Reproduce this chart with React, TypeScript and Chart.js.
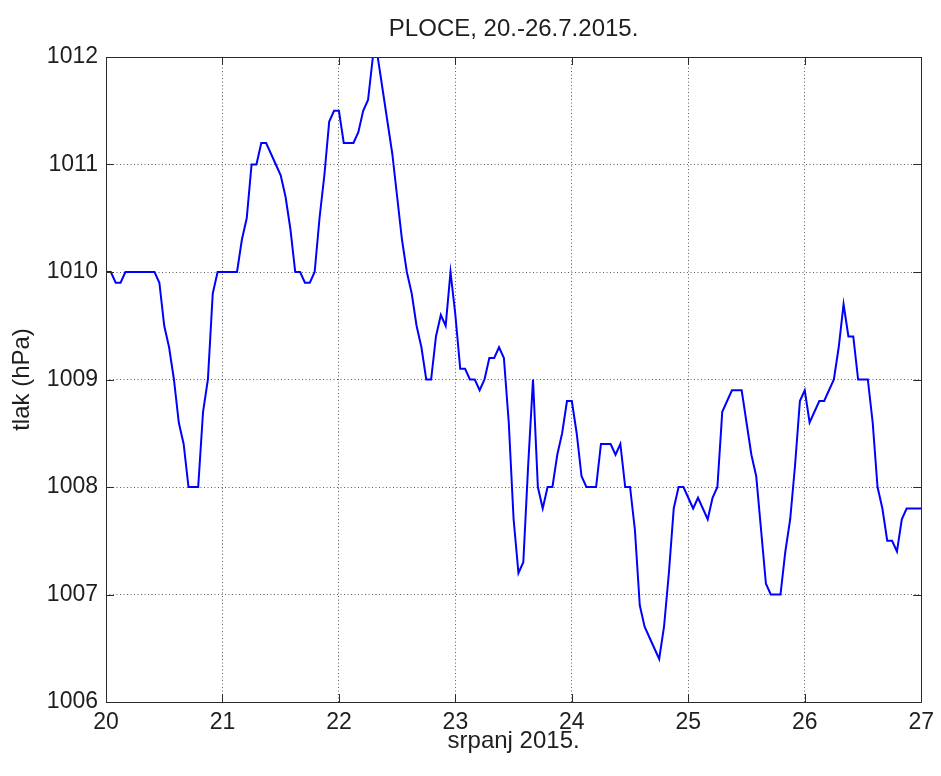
import { useEffect, useRef } from "react";
import { Chart, registerables } from "chart.js";

Chart.register(...registerables);

const TITLE = "PLOCE, 20.-26.7.2015.";
const X_LABEL = "srpanj 2015.";
const Y_LABEL = "tlak (hPa)";

const DAY_TICKS = [20, 21, 22, 23, 24, 25, 26, 27];
const PRESSURE_TICKS = [1006, 1007, 1008, 1009, 1010, 1011, 1012];

// hourly readings starting at 20.7. 00h
const START_DAY = 20;
const SAMPLES_PER_DAY = 24;

const pressure = [
  // 20.7.
  1010.0, 1010.0, 1009.9, 1009.9, 1010.0, 1010.0, 1010.0, 1010.0, 1010.0, 1010.0, 1010.0, 1009.9,
  1009.5, 1009.3, 1009.0, 1008.6, 1008.4, 1008.0, 1008.0, 1008.0, 1008.7, 1009.0, 1009.8, 1010.0,
  // 21.7.
  1010.0, 1010.0, 1010.0, 1010.0, 1010.3, 1010.5, 1011.0, 1011.0, 1011.2, 1011.2, 1011.1, 1011.0,
  1010.9, 1010.7, 1010.4, 1010.0, 1010.0, 1009.9, 1009.9, 1010.0, 1010.5, 1010.9, 1011.4, 1011.5,
  // 22.7.
  1011.5, 1011.2, 1011.2, 1011.2, 1011.3, 1011.5, 1011.6, 1012.0, 1012.0, 1011.7, 1011.4, 1011.1,
  1010.7, 1010.3, 1010.0, 1009.8, 1009.5, 1009.3, 1009.0, 1009.0, 1009.4, 1009.6, 1009.5, 1010.0,
  // 23.7.
  1009.6, 1009.1, 1009.1, 1009.0, 1009.0, 1008.9, 1009.0, 1009.2, 1009.2, 1009.3, 1009.2, 1008.6,
  1007.7, 1007.2, 1007.3, 1008.2, 1009.0, 1008.0, 1007.8, 1008.0, 1008.0, 1008.3, 1008.5, 1008.8,
  // 24.7.
  1008.8, 1008.5, 1008.1, 1008.0, 1008.0, 1008.0, 1008.4, 1008.4, 1008.4, 1008.3, 1008.4, 1008.0,
  1008.0, 1007.6, 1006.9, 1006.7, 1006.6, 1006.5, 1006.4, 1006.7, 1007.2, 1007.8, 1008.0, 1008.0,
  // 25.7.
  1007.9, 1007.8, 1007.9, 1007.8, 1007.7, 1007.9, 1008.0, 1008.7, 1008.8, 1008.9, 1008.9, 1008.9,
  1008.6, 1008.3, 1008.1, 1007.6, 1007.1, 1007.0, 1007.0, 1007.0, 1007.4, 1007.7, 1008.2, 1008.8,
  // 26.7.
  1008.9, 1008.6, 1008.7, 1008.8, 1008.8, 1008.9, 1009.0, 1009.3, 1009.7, 1009.4, 1009.4, 1009.0,
  1009.0, 1009.0, 1008.6, 1008.0, 1007.8, 1007.5, 1007.5, 1007.4, 1007.7, 1007.8, 1007.8, 1007.8,
  // 27.7. 00h
  1007.8,
];

const FONT_FAMILY = "'Liberation Sans', Arial, Helvetica, sans-serif";
const TEXT_COLOR = "#1e1e1e";
const AXIS_COLOR = "#2a2a2a";
const GRID_COLOR = "rgba(40,40,40,0.75)";
const LINE_COLOR = "#0000ff";
const TICK_LEN = 8;

// axes box with inward tick marks on all four sides, plus the title centred over the plot
const framePlugin = {
  id: "matlabFrame",
  afterDraw(chart: any) {
    const { ctx, chartArea } = chart;
    const { left, right, top, bottom } = chartArea;
    const xs = chart.scales.x;
    const ys = chart.scales.y;
    ctx.save();
    ctx.strokeStyle = AXIS_COLOR;
    ctx.lineWidth = 1;
    ctx.setLineDash([]);
    ctx.beginPath();
    ctx.rect(Math.round(left) + 0.5, Math.round(top) + 0.5, Math.round(right - left), Math.round(bottom - top));
    ctx.stroke();
    ctx.beginPath();
    DAY_TICKS.forEach((v) => {
      const px = Math.round(xs.getPixelForValue(v)) + 0.5;
      ctx.moveTo(px, bottom);
      ctx.lineTo(px, bottom - TICK_LEN);
      ctx.moveTo(px, top);
      ctx.lineTo(px, top + TICK_LEN);
    });
    PRESSURE_TICKS.forEach((v) => {
      const py = Math.round(ys.getPixelForValue(v)) + 0.5;
      ctx.moveTo(left, py);
      ctx.lineTo(left + TICK_LEN, py);
      ctx.moveTo(right, py);
      ctx.lineTo(right - TICK_LEN, py);
    });
    ctx.stroke();

    ctx.fillStyle = TEXT_COLOR;
    ctx.font = `24px ${FONT_FAMILY}`;
    ctx.textAlign = "center";
    ctx.textBaseline = "middle";
    ctx.fillText(TITLE, (left + right) / 2, top - 28);
    ctx.restore();
  },
};

export default function App() {
  const canvasRef = useRef<HTMLCanvasElement | null>(null);

  useEffect(() => {
    const canvas = canvasRef.current;
    if (!canvas) return;

    const points = pressure.map((p, i) => ({ x: START_DAY + i / SAMPLES_PER_DAY, y: p }));

    const chart = new Chart(canvas, {
      type: "line",
      data: {
        datasets: [
          {
            data: points,
            borderColor: LINE_COLOR,
            borderWidth: 2,
            pointRadius: 0,
            tension: 0,
            fill: false,
          },
        ],
      },
      options: {
        animation: false,
        responsive: false,
        devicePixelRatio: 1,
        layout: { padding: { top: 57, right: 18, bottom: 0, left: 0 } },
        plugins: {
          legend: { display: false },
          tooltip: { enabled: false },
          title: { display: false },
        },
        scales: {
          x: {
            type: "linear",
            min: 20,
            max: 27,
            afterBuildTicks: (s: any) => {
              s.ticks = DAY_TICKS.map((v) => ({ value: v }));
            },
            afterFit: (s: any) => {
              s.height = 74;
            },
            ticks: {
              color: TEXT_COLOR,
              font: { family: FONT_FAMILY, size: 23 },
              padding: 7,
              maxRotation: 0,
              autoSkip: false,
              callback: (v: any) => String(v),
            },
            grid: { color: GRID_COLOR, lineWidth: 1, drawTicks: false },
            border: { display: false, dash: [1, 2.5] },
            title: {
              display: true,
              text: X_LABEL,
              color: TEXT_COLOR,
              font: { family: FONT_FAMILY, size: 24 },
              padding: { top: 0, bottom: 20 },
            },
          },
          y: {
            type: "linear",
            min: 1006,
            max: 1012,
            afterBuildTicks: (s: any) => {
              s.ticks = PRESSURE_TICKS.map((v) => ({ value: v }));
            },
            afterFit: (s: any) => {
              s.width = 106;
            },
            ticks: {
              color: TEXT_COLOR,
              font: { family: FONT_FAMILY, size: 23 },
              padding: 8,
              autoSkip: false,
              callback: (v: any) => String(v),
            },
            grid: { color: GRID_COLOR, lineWidth: 1, drawTicks: false },
            border: { display: false, dash: [1, 2.5] },
            title: {
              display: true,
              text: Y_LABEL,
              color: TEXT_COLOR,
              font: { family: FONT_FAMILY, size: 24 },
              padding: { top: 8, bottom: 0 },
            },
          },
        },
      },
      plugins: [framePlugin],
    });

    return () => chart.destroy();
  }, []);

  return (
    <div style={{ position: "absolute", left: 0, top: 0, width: 941, height: 776, background: "#ffffff" }}>
      <canvas ref={canvasRef} width={941} height={776} style={{ display: "block" }} />
    </div>
  );
}
